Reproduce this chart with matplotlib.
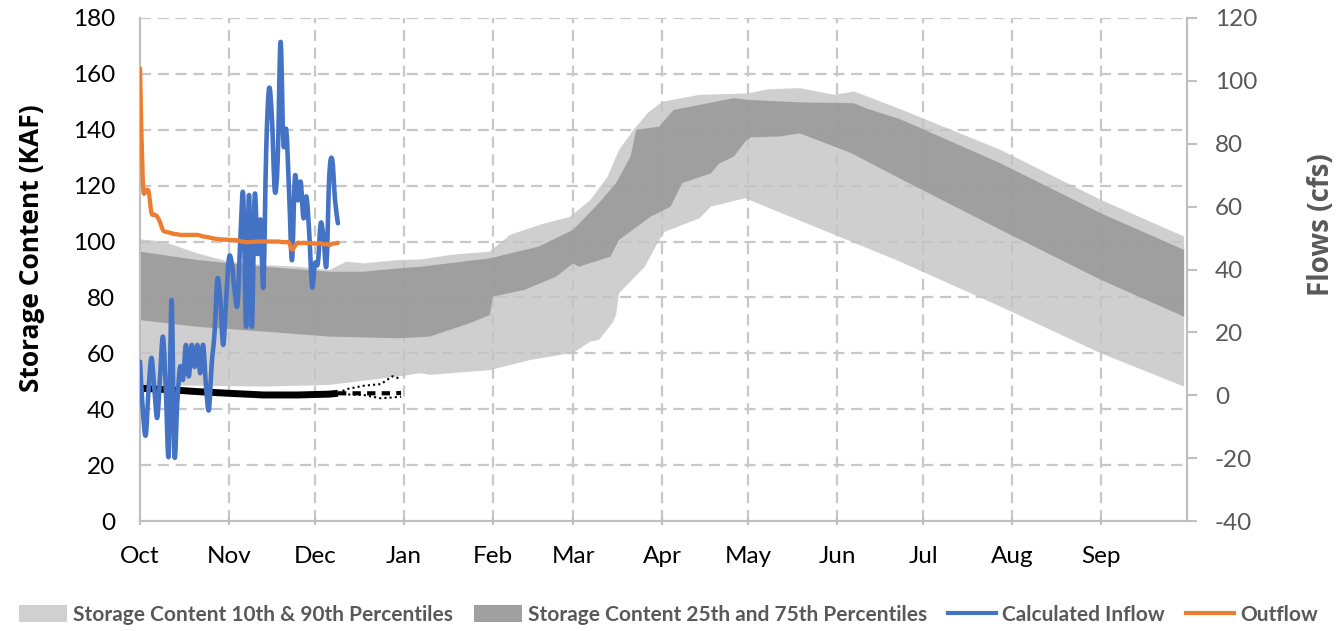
import numpy as np
import matplotlib
matplotlib.use("Agg")
import matplotlib.pyplot as plt
from matplotlib.patches import Patch, PathPatch
from matplotlib.lines import Line2D
from matplotlib.path import Path

# ---------------- data ----------------
month_labels = ["Oct", "Nov", "Dec", "Jan", "Feb", "Mar", "Apr", "May", "Jun", "Jul", "Aug", "Sep"]
month_start_day = [0, 31, 61, 92, 123, 151, 182, 212, 243, 273, 304, 335]

# storage percentiles (KAF), day-of-water-year anchors
p90_days = [0, 8, 20, 31, 43, 55, 66, 72, 78, 90, 98, 108, 122, 129, 139, 150, 157, 163, 167, 172, 177, 182, 195, 212, 219, 230, 242, 249, 265, 300, 335, 364]
p90_vals = [100.8, 100, 95.8, 92.8, 91.6, 91, 89.8, 92.8, 92.2, 93.4, 93.6, 95.2, 96.4, 102.4, 105.9, 108.9, 114.9, 123.2, 132.8, 139.9, 146, 150, 152.5, 153, 154.5, 154.9, 152.5, 153.7, 147.4, 132.8, 114.9, 101.8]

p75_days = [0, 20, 43, 66, 78, 90, 98, 122, 139, 151, 160, 166, 171, 173, 181, 186, 207, 212, 230, 249, 253, 265, 300, 335, 364]
p75_vals = [96.4, 93.4, 91, 89.2, 89.2, 90.4, 91, 94, 98.2, 104.2, 113.8, 121, 130.4, 140, 141.1, 147.1, 151.3, 150.7, 149.8, 149.5, 147.7, 143.8, 128, 110.1, 97]

p25_days = [0, 20, 43, 66, 90, 101, 115, 122, 123, 134, 145, 151, 153, 164, 167, 178, 185, 189, 199, 202, 207, 211, 213, 223, 230, 242, 248, 265, 300, 335, 364]
p25_vals = [71.9, 69.5, 67.8, 66, 65.4, 66, 70.8, 73.7, 80.3, 82.7, 87.4, 92.2, 91, 94.6, 100.6, 108.9, 112.5, 120.9, 124.4, 128, 130.4, 135.8, 137.3, 137.6, 138.7, 134, 131.6, 122.5, 104.2, 86.3, 73.1]

p10_days = [0, 43, 66, 90, 98, 101, 122, 136, 151, 157, 160, 165, 166, 167, 176, 181, 183, 195, 199, 211, 230, 265, 300, 335, 364]
p10_vals = [48.7, 48.1, 48.7, 51.7, 52.9, 52.3, 54, 57.6, 60.2, 64.2, 64.8, 71.3, 74, 81.5, 91, 100.6, 103.5, 108.3, 112.5, 115.5, 107.5, 92.8, 76.7, 60, 48.1]

# current-year storage (KAF) and projections
storage_days = [0, 10, 20, 31, 43, 55, 66, 69]
storage_vals = [47.5, 47, 46.3, 45.7, 45.1, 45.1, 45.4, 45.7]
proj_days = [69, 72, 78, 84, 88, 91]
proj_high = [45.7, 47.2, 48.4, 49, 51.8, 50.8]
proj_mid = [45.7, 45.7, 45.7, 45.7, 45.7, 45.8]
proj_low = [45.7, 45.3, 45.1, 43.9, 44.2, 44.5]

# flows (cfs), daily from Oct 1
inflow = [10.7, -5, -12.7, 2, 11.9, 2, -7.2, 6, 18.6, 2,
          -19, 30.3, -19, -2, 9.1, 5, 16, 6, 16, 9,
          16, 7, 16, 3, -4.7, 10, 20, 37, 30, 16,
          30, 43.6, 42, 33, 29, 50, 63.7, 21.8, 63.7, 21.8,
          63.7, 45, 55.8, 34.5, 78, 97.6, 88, 65, 74.8, 112.4,
          80, 84.4, 64, 43, 69.5, 62, 67.9, 56.3, 63.2, 51.5,
          34.5, 42, 42, 54.7, 50, 41.4, 70, 75, 62, 54.7]
outflow = [104, 67.5, 65.3, 64.8, 58, 57.5, 56.8, 55, 52.5, 52,
           51.8, 51.5, 51.3, 51.2, 51, 51, 51, 51, 51, 51,
           51, 50.8, 50.5, 50.4, 50.2, 50, 49.8, 49.7, 49.6, 49.5,
           49.5, 49.4, 49.4, 49.3, 49.3, 49.0, 48.8, 48.7, 48.7, 48.8,
           48.8, 48.9, 48.9, 48.9, 48.9, 48.9, 48.9, 48.9, 48.9, 48.8,
           48.7, 48.7, 48.5, 46.3, 47.5, 48.5, 48.4, 48.5, 48.4, 48.4,
           48.3, 48.3, 48.3, 48.3, 48.0, 48.1, 47.8, 48.2, 48.3, 48.5]


def smooth_path(x, y):
    """Bezier (Catmull-Rom style) path through the data points, like a smoothed line."""
    p = np.column_stack([x, y]).astype(float)
    n = len(p)
    verts = [p[0]]
    codes = [Path.MOVETO]
    for i in range(n - 1):
        p0 = p[i - 1] if i > 0 else p[i]
        p3 = p[i + 2] if i + 2 < n else p[i + 1]
        c1 = p[i] + (p[i + 1] - p0) / 6.0
        c2 = p[i + 1] - (p3 - p[i]) / 6.0
        verts += [c1, c2, p[i + 1]]
        codes += [Path.CURVE4] * 3
    return Path(verts, codes)


# ---------------- figure ----------------
plt.rcParams['font.family'] = ['Lato', 'DejaVu Sans']
plt.rcParams['axes.unicode_minus'] = False
fig = plt.figure(figsize=(13.37, 6.31), dpi=100)
ax = fig.add_axes([140/1337, 1-521/631, (1187-140)/1337, (521-18)/631])
ax2 = ax.twinx()

grid_c = '#c8c8c8'
for v in range(20, 181, 20):
    ax.axhline(v, color=grid_c, lw=1.6, ls=(0, (5, 3)), zorder=0.5)
for d in month_start_day[1:]:
    ax.axvline(d, color=grid_c, lw=1.6, ls=(0, (5, 3)), zorder=0.5)

ax.fill(np.concatenate([p90_days, p10_days[::-1]]),
        np.concatenate([p90_vals, p10_vals[::-1]]),
        color='#c4c4c4', alpha=0.8, lw=0, zorder=1)
ax.fill(np.concatenate([p75_days, p25_days[::-1]]),
        np.concatenate([p75_vals, p25_vals[::-1]]),
        color='#979797', alpha=0.85, lw=0, zorder=1.1)

ax.plot(storage_days, storage_vals, color='black', lw=5, solid_capstyle='butt', zorder=3)
ax.plot(proj_days, proj_high, color='black', lw=1.5, ls=(0, (1, 1.5)), zorder=3)
ax.plot(proj_days, proj_mid, color='black', lw=3, ls=(0, (2, 1.5)), zorder=3)
ax.plot(proj_days, proj_low, color='black', lw=1.5, ls=(0, (1, 1.5)), zorder=3)

ax2.add_patch(PathPatch(smooth_path(np.arange(len(inflow)), inflow), fill=False,
                        edgecolor='#4472c4', lw=3.3, joinstyle='round', capstyle='round', zorder=4))
ax2.add_patch(PathPatch(smooth_path(np.arange(len(outflow)), outflow), fill=False,
                        edgecolor='#ed7d31', lw=3.1, joinstyle='round', capstyle='round', zorder=4))

ax.set_xlim(0, 365)
ax.set_ylim(0, 180)
ax2.set_ylim(-40, 120)
ax.set_yticks(range(0, 181, 20))
ax2.set_yticks(range(-40, 121, 20))
ax.set_xticks(month_start_day)
ax.set_xticklabels(month_labels)

spine_c = '#bfbfbf'
for a in (ax, ax2):
    a.spines['top'].set_visible(False)
    for s in ('left', 'right', 'bottom'):
        a.spines[s].set_color(spine_c)
        a.spines[s].set_linewidth(1.5)
ax.tick_params(axis='y', length=0, labelsize=17.5, labelcolor='black', pad=18)
ax.tick_params(axis='x', length=6, width=1.5, color=spine_c, direction='inout', labelsize=17.5, labelcolor='black', pad=15)
ax2.tick_params(axis='y', length=7, width=1.5, color=spine_c, direction='out', labelsize=17.5, labelcolor='#595959', pad=13)

ax.set_ylabel('Storage Content (KAF)', fontsize=19, fontweight='bold', color='black',
              family=['Open Sans', 'Lato'])
ax.yaxis.set_label_coords(-0.0907, 0.543)
ax2.set_ylabel('Flows (cfs)', fontsize=20, fontweight='bold', color='#595959',
               family=['Open Sans', 'Lato'])
ax2.yaxis.set_label_coords(1.1145, 0.59)

handles = [Patch(facecolor='#d0d0d0', edgecolor='none'),
           Patch(facecolor='#a0a0a0', edgecolor='none'),
           Line2D([], [], color='#4472c4', lw=3),
           Line2D([], [], color='#ed7d31', lw=3)]
labels = ['Storage Content 10th & 90th Percentiles', 'Storage Content 25th and 75th Percentiles',
          'Calculated Inflow', 'Outflow']
leg = fig.legend(handles, labels, loc='center', bbox_to_anchor=(0.5, 1-615/631), ncol=4,
                 frameon=False, handlelength=2.3, handleheight=0.9, handletextpad=0.3,
                 columnspacing=1.0, prop={'family': ['Lato'], 'weight': 'bold', 'size': 15})
for t in leg.get_texts():
    t.set_color('#595959')

fig.savefig('out.png', dpi=100)
